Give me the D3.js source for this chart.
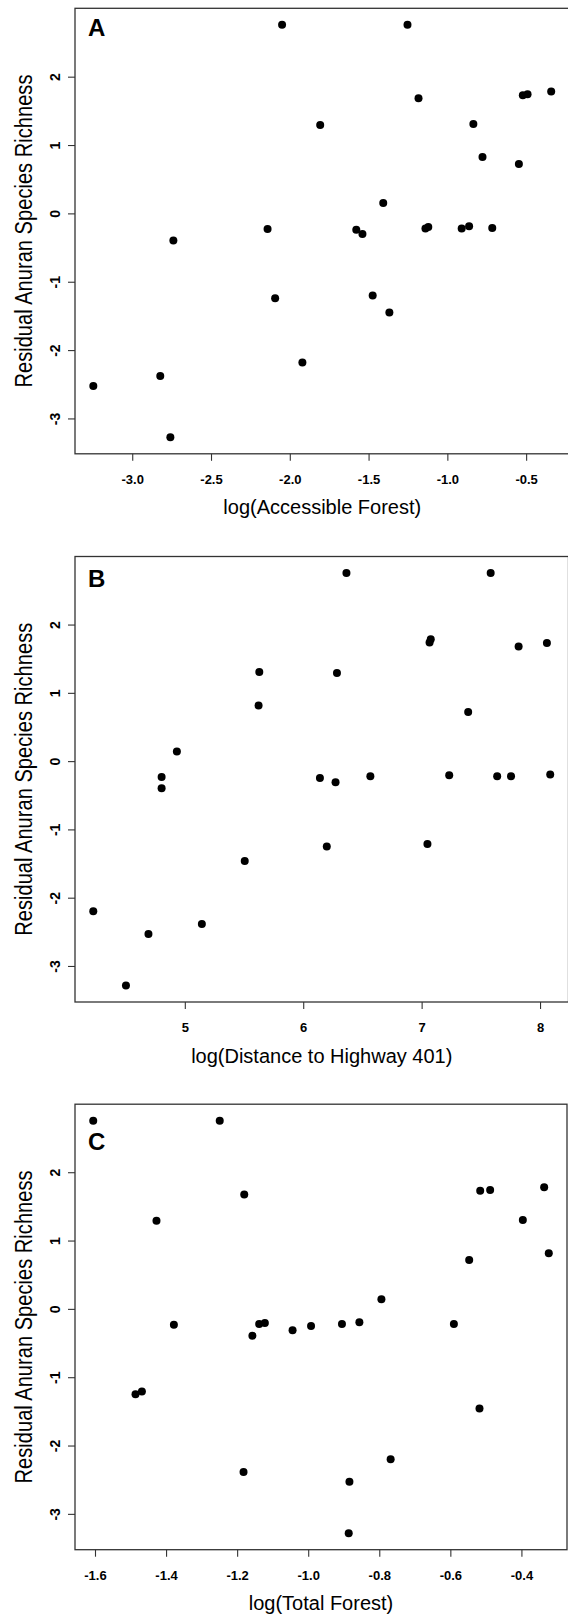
<!DOCTYPE html>
<html>
<head>
<meta charset="utf-8">
<script src="https://cdn.jsdelivr.net/npm/d3@7"></script>
<style>
  body { margin: 0; background: #fff; }
  svg { display: block; font-family: "Liberation Sans", Arial, sans-serif; }
</style>
</head>
<body>
<div id="chart"></div>
<script>
// Panel A: log(Accessible Forest)
var accessibleForest = [-3.247, -2.822, -2.758, -2.739, -2.141, -2.093, -2.049, -1.920, -1.807,
    -1.578, -1.539, -1.474, -1.407, -1.368, -1.253, -1.183, -1.139, -1.121, -0.909, -0.862,
    -0.835, -0.777, -0.715, -0.546, -0.521, -0.491, -0.341];
var residualA = [-2.524, -2.378, -3.276, -0.395, -0.229, -1.240, 2.759, -2.183, 1.294,
    -0.239, -0.303, -1.201, 0.151, -1.450, 2.759, 1.685, -0.220, -0.200, -0.220, -0.190,
    1.309, 0.825, -0.215, 0.723, 1.729, 1.743, 1.782];
var ticksA = [-3.0, -2.5, -2.0, -1.5, -1.0, -0.5];

// Panel B: log(Distance to Highway 401)
var distanceHighway = [4.227, 4.503, 4.693, 4.804, 4.804, 4.933, 5.144, 5.506, 5.623,
    5.629, 6.141, 6.199, 6.273, 6.285, 6.365, 6.567, 7.049, 7.067, 7.077, 7.233,
    7.393, 7.583, 7.638, 7.755, 7.819, 8.058, 8.086];
var residualB = [-2.199, -3.286, -2.533, -0.233, -0.399, 0.142, -2.386, -1.461, 0.814,
    1.304, -0.248, -1.249, -0.308, 1.289, 2.755, -0.222, -1.213, 1.739, 1.785, -0.207,
    0.718, 2.755, -0.222, -0.222, 1.678, 1.729, -0.197];
var ticksB = [5, 6, 7, 8];

// Panel C: log(Total Forest)
var totalForest = [-1.605, -1.486, -1.468, -1.427, -1.378, -1.249, -1.182, -1.180, -1.157,
    -1.138, -1.122, -1.044, -0.992, -0.905, -0.884, -0.886, -0.856, -0.794, -0.768,
    -0.590, -0.547, -0.518, -0.516, -0.488, -0.396, -0.336, -0.323];
var residualC = [2.754, -1.250, -1.208, 1.291, -0.233, 2.754, -2.386, 1.675, -0.394,
    -0.223, -0.207, -0.311, -0.249, -0.223, -2.531, -3.283, -0.197, 0.140, -2.199,
    -0.223, 0.716, -1.457, 1.727, 1.738, 1.302, 1.779, 0.814];
var ticksC = [-1.6, -1.4, -1.2, -1.0, -0.8, -0.6, -0.4];

var residualTicks = [-3, -2, -1, 0, 1, 2];
var panelLabels = ["A", "B", "C"];
var xTitles = ["log(Accessible Forest)", "log(Distance to Highway 401)", "log(Total Forest)"];
var yTitle = "Residual Anuran Species Richness";

function init() {
    var w = 568;
    var h = 1614;

    var svg = d3.select("#chart")
            .append("svg")
            .attr("width", w)
            .attr("height", h);

    var panels = [
        {x: accessibleForest, y: residualA, ticks: ticksA, fmt: function(d) { return d.toFixed(1); }},
        {x: distanceHighway, y: residualB, ticks: ticksB, fmt: function(d) { return String(d); }},
        {x: totalForest, y: residualC, ticks: ticksC, fmt: function(d) { return d.toFixed(1); }}
    ];

    // box geometry, roughly where R put the plot regions
    var left = 75;
    var rights = [569.5, 568.5, 567];
    var tops = [8.3, 556.5, 1104.2];
    var boxH = 445.5;
    var labelDrop = [28, 30.7, 45.8];

    // R pads the data range by 4% on each side
    function padded(arr) {
        var e = d3.extent(arr);
        var p = (e[1] - e[0]) * 0.04;
        return [e[0] - p, e[1] + p];
    }

    panels.forEach(function(p, i) {
        var top = tops[i];
        var bottom = top + boxH;
        var right = rights[i];

        var x = d3.scaleLinear().domain(padded(p.x)).range([left, right]);
        var y = d3.scaleLinear().domain(padded(p.y)).range([bottom, top]);

        var g = svg.append("g");

        // x axis
        var xa = g.append("g")
            .attr("transform", "translate(0," + bottom + ")")
            .call(d3.axisBottom(x).tickValues(p.ticks).tickSize(7).tickFormat(p.fmt));
        xa.select(".domain").remove();
        xa.selectAll("line").attr("stroke", "#333").attr("stroke-width", 1.1);
        xa.selectAll("text")
            .attr("y", 30)
            .attr("dy", 0)
            .attr("fill", "#000")
            .style("font-size", "13px")
            .style("font-weight", "bold")
            .style("font-family", "'Liberation Sans', Arial, sans-serif");

        // y axis, labels parallel to the axis like R
        var ya = g.append("g")
            .attr("transform", "translate(" + left + ",0)")
            .call(d3.axisLeft(y).tickValues(residualTicks).tickSize(7)
                .tickFormat(function(d) { return String(d); }));
        ya.select(".domain").remove();
        ya.selectAll("line").attr("stroke", "#333").attr("stroke-width", 1.1);
        ya.selectAll("text")
            .attr("transform", "rotate(-90)")
            .attr("x", 0)
            .attr("y", -15.5)
            .attr("dy", 0)
            .attr("text-anchor", "middle")
            .attr("fill", "#000")
            .style("font-size", "14px")
            .style("font-weight", "bold")
            .style("font-family", "'Liberation Sans', Arial, sans-serif");

        // points
        g.selectAll("circle")
            .data(p.x)
            .enter()
            .append("circle")
            .attr("cx", function(d) { return x(d); })
            .attr("cy", function(d, j) { return y(p.y[j]); })
            .attr("r", 4)
            .style("fill", "#000");

        // plot box
        g.append("rect")
            .attr("x", left)
            .attr("y", top)
            .attr("width", right - left)
            .attr("height", boxH)
            .attr("fill", "none")
            .attr("stroke", "#333")
            .attr("stroke-width", 1.3);

        // panel letter
        g.append("text")
            .attr("x", 88)
            .attr("y", top + labelDrop[i])
            .style("font-size", "24px")
            .style("font-weight", "bold")
            .text(panelLabels[i]);

        // axis titles
        g.append("text")
            .attr("x", (left + right) / 2)
            .attr("y", bottom + 60.5)
            .attr("text-anchor", "middle")
            .style("font-size", "20px")
            .text(xTitles[i]);

        g.append("text")
            .attr("transform", "translate(32," + (top + boxH / 2) + ") rotate(-90)")
            .attr("text-anchor", "middle")
            .attr("textLength", 313)
            .attr("lengthAdjust", "spacingAndGlyphs")
            .style("font-size", "23px")
            .text(yTitle);
    });
}

window.onload = init;
</script>
</body>
</html>
